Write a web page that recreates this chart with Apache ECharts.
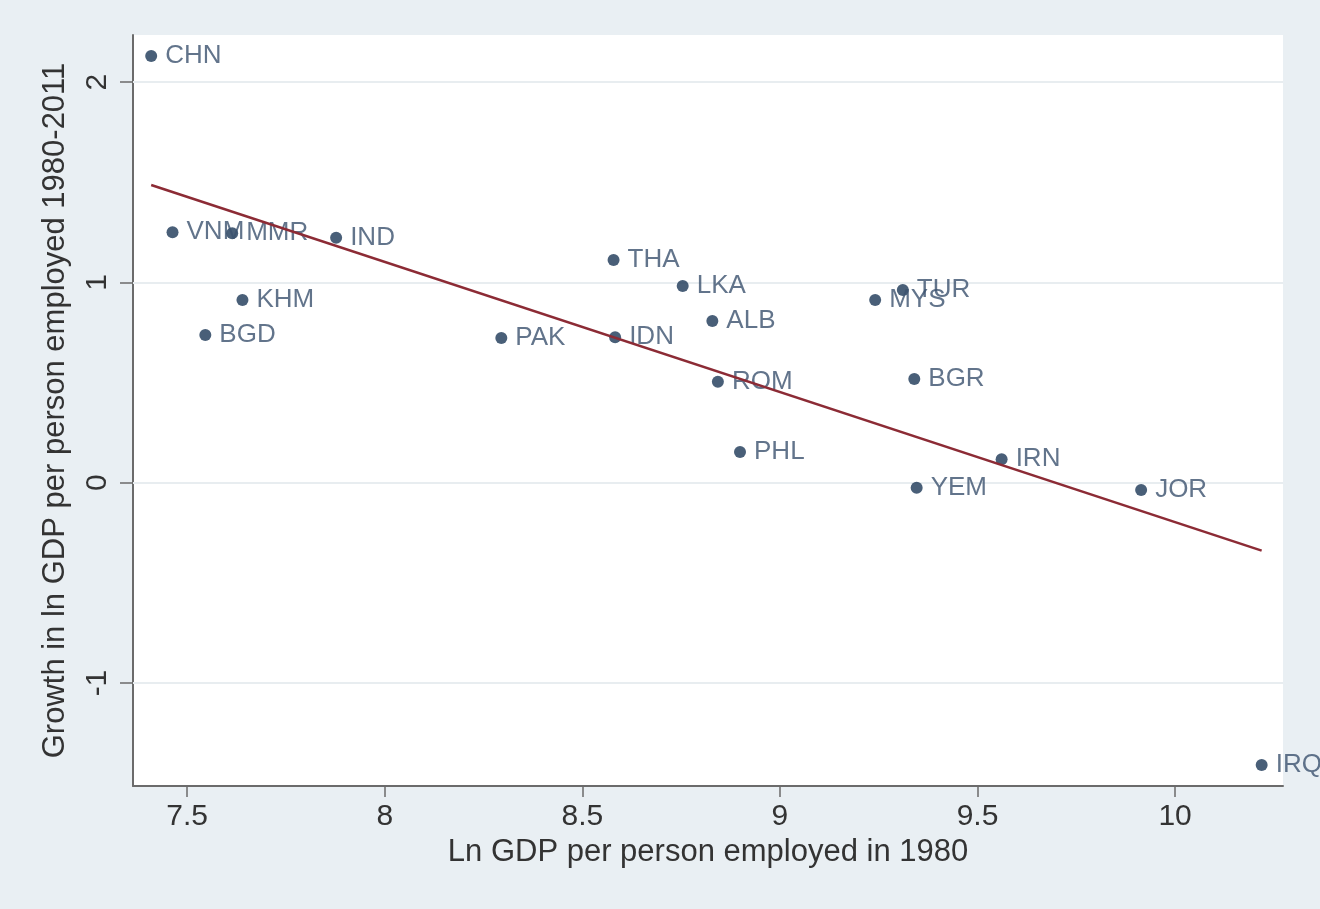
<!DOCTYPE html>
<html>
<head>
<meta charset="utf-8">
<title>Growth in ln GDP per person employed vs. 1980 level</title>
<script src="https://cdn.jsdelivr.net/npm/echarts@6/dist/echarts.min.js"></script>
<style>
  html, body { margin: 0; padding: 0; background: #e9eff3; }
  #chart { width: 1320px; height: 909px; }
</style>
</head>
<body>
<div id="chart"></div>
<script>
// Country codes
const countries = ['CHN', 'VNM', 'MMR', 'IND', 'KHM', 'BGD', 'PAK', 'THA', 'LKA', 'IDN',
                   'ALB', 'ROM', 'PHL', 'MYS', 'TUR', 'BGR', 'IRN', 'YEM', 'JOR', 'IRQ'];
// Ln GDP per person employed in 1980
const lnGdp1980 = [7.409, 7.463, 7.614, 7.877, 7.640, 7.546, 8.295, 8.579, 8.754, 8.583,
                   8.829, 8.843, 8.899, 9.241, 9.311, 9.340, 9.561, 9.346, 9.914, 10.219];
// Growth in ln GDP per person employed, 1980-2011
const growth = [2.130, 1.250, 1.245, 1.223, 0.912, 0.737, 0.722, 1.112, 0.982, 0.726,
                0.807, 0.504, 0.153, 0.912, 0.962, 0.518, 0.117, -0.025, -0.036, -1.409];
// Fitted line end points
const fitX = [7.409, 10.219];
const fitY = [1.486, -0.339];
// Tick positions
const xTicks = [7.5, 8, 8.5, 9, 9.5, 10];
const yTicks = [-1, 0, 1, 2];

const FONT = '"Liberation Sans", Arial, Helvetica, sans-serif';

const chart = echarts.init(document.getElementById('chart'), null, { renderer: 'canvas' });

const points = countries.map((c, i) => ({ name: c, value: [lnGdp1980[i], growth[i]] }));
const fitLine = fitX.map((x, i) => [x, fitY[i]]);

chart.setOption({
  backgroundColor: '#e9eff3',
  animation: false,
  grid: {
    left: 133, right: 37, top: 35, bottom: 123,
    show: true, backgroundColor: '#ffffff', borderWidth: 0
  },
  xAxis: {
    type: 'value',
    min: 7.363, max: 10.273,
    name: 'Ln GDP per person employed in 1980',
    nameLocation: 'middle',
    nameGap: 50,
    nameTextStyle: { fontFamily: FONT, fontSize: 31, color: '#333333' },
    axisLine: { show: true, onZero: false, lineStyle: { color: '#6b6b6b', width: 2 } },
    axisTick: { show: true, length: 11, customValues: xTicks, lineStyle: { color: '#6b6b6b', width: 1.5 } },
    axisLabel: {
      customValues: xTicks, margin: 16,
      fontFamily: FONT, fontSize: 30, color: '#333333'
    },
    splitLine: { show: false }
  },
  yAxis: {
    type: 'value',
    min: -1.514, max: 2.235,
    name: 'Growth in ln GDP per person employed 1980-2011',
    nameLocation: 'middle',
    nameGap: 62,
    nameTextStyle: { fontFamily: FONT, fontSize: 31, color: '#333333' },
    axisLine: { show: true, onZero: false, lineStyle: { color: '#6b6b6b', width: 2 } },
    axisTick: { show: true, length: 13, customValues: yTicks, lineStyle: { color: '#6b6b6b', width: 1.5 } },
    axisLabel: {
      customValues: yTicks, rotate: 90, margin: 20,
      fontFamily: FONT, fontSize: 30, color: '#333333'
    },
    splitLine: { show: false }
  },
  series: [
    {
      // horizontal reference lines at the y ticks, kept beneath the marks
      type: 'line',
      data: [],
      z: 1,
      silent: true,
      markLine: {
        z: 1,
        silent: true,
        symbol: 'none',
        label: { show: false },
        lineStyle: { color: '#e8edf0', width: 2, type: 'solid' },
        data: yTicks.map(v => ({ yAxis: v }))
      }
    },
    {
      type: 'scatter',
      data: points,
      z: 2,
      symbolSize: 12,
      itemStyle: { color: '#1b3756' },
      label: {
        show: true,
        position: 'right',
        distance: 8,
        formatter: p => p.name,
        fontFamily: FONT,
        fontSize: 26,
        color: '#3b516e'
      }
    },
    {
      // fitted line, drawn over the points and their labels
      type: 'line',
      data: fitLine,
      z: 4,
      zlevel: 1,
      showSymbol: false,
      silent: true,
      lineStyle: { color: '#8c2b35', width: 2.5 }
    }
  ]
});
</script>
</body>
</html>
